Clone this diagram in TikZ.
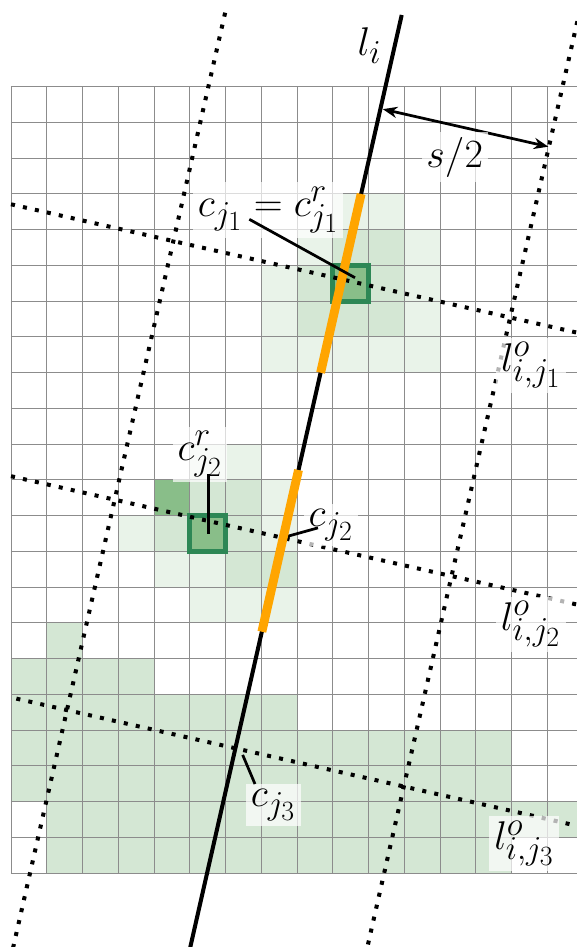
\documentclass[tikz,border=0pt]{standalone}
\usetikzlibrary{arrows.meta}
\definecolor{gmed}{RGB}{212,231,212}
\definecolor{glight}{RGB}{233,243,233}
\definecolor{gdark}{RGB}{137,190,137}
\definecolor{gborder}{RGB}{45,135,85}
\definecolor{orng}{RGB}{255,165,0}
\begin{document}
\begin{tikzpicture}[x=0.78cm,y=-0.78cm,
  gridline/.style={draw=black!45,line width=0.6pt},
  dotline/.style={line width=2.5pt,dash pattern=on 2.5pt off 5.1pt},
  mainline/.style={line width=2.5pt},
  segline/.style={draw=orng,line width=5.5pt},
  leader/.style={line width=1.7pt},
  repcell/.style={draw=gborder,line width=3pt,fill=gdark},
  lbl/.style={font=\Huge,fill=white,fill opacity=0.7,text opacity=1,inner xsep=3pt,inner ysep=3pt},
  dimarrow/.style={line width=1.7pt,{Stealth[length=9pt,width=7pt]}-{Stealth[length=9pt,width=7pt]}}
]
\useasboundingbox (-0.3077,-2.425) rectangle (15.832,24.064);
\clip (-0.3077,-2.425) rectangle (15.832,24.064);

% patch 1
\foreach \c/\r in {9/3,10/3,8/4,11/4,7/5,11/5,7/6,11/6,7/7,8/7,9/7,10/7,11/7}
  \fill[glight] (\c,\r) rectangle ++(1,1);
\foreach \c/\r in {9/4,10/4,8/5,10/5,8/6,9/6,10/6}
  \fill[gmed] (\c,\r) rectangle ++(1,1);
% patch 2
\foreach \c/\r in {5/10,6/10,7/11,3/12,7/12,4/13,5/13,5/14,6/14,7/14}
  \fill[glight] (\c,\r) rectangle ++(1,1);
\foreach \c/\r in {5/11,6/11,4/12,6/12,6/13,7/13}
  \fill[gmed] (\c,\r) rectangle ++(1,1);
\fill[gdark] (4,11) rectangle ++(1,1);
% bottom patch
\foreach \r/\a/\b in {15/1/1,16/0/3,17/0/7,18/0/13,19/0/13,20/1/15,21/1/13}
  \fill[gmed] (\a,\r) rectangle (\b+1,\r+1);

% grid
\foreach \i in {0,...,16} \draw[gridline] (\i,0) -- (\i,22);
\foreach \j in {0,...,22} \draw[gridline] (0,\j) -- (16,\j);

% representative cells
\draw[repcell] (9,5) rectangle (10,6);
\draw[repcell] (5,12) rectangle (6,13);

% coordinates
\coordinate (lt) at (10.929,-2.006);
\coordinate (lb) at (4.917,24.5);
\coordinate (p1a) at (0,3.289);
\coordinate (p1b) at (16.5,7.031);
\coordinate (p2a) at (0,10.895);
\coordinate (p2b) at (16.5,14.637);
\coordinate (p3a) at (0.15,17.116);
\coordinate (p3b) at (16.5,20.825);
\coordinate (qla) at (5.990,-2.07);
\coordinate (qlb) at (-0.036,24.5);
\coordinate (qra) at (15.994,-2.5);
\coordinate (qrb) at (9.870,24.5);
\coordinate (s1a) at (9.794,3);
\coordinate (s1b) at (8.660,8);
\coordinate (s2a) at (8.042,10.722);
\coordinate (s2b) at (7.017,15.245);
\coordinate (a1) at (10.40,0.628);
\coordinate (a2) at (15.03,1.678);

% dotted lines
\draw[dotline] (p1a) -- (p1b);
\draw[dotline] (p2a) -- (p2b);
\draw[dotline] (p3a) -- (p3b);
\draw[dotline] (qla) -- (qlb);
\draw[dotline] (qra) -- (qrb);

% main line and segments
\draw[mainline] (lt) -- (lb);
\draw[segline] (s1a) -- (s1b);

% distance arrow
\draw[dimarrow] (a1) -- (a2);

% labels
\node[lbl] (Li) at (10.028,-1.138) {$l_i$};
\node[lbl] (S) at (12.411,1.975) {$s/2$};
\node[lbl] (C1) at (7.197,3.449) {$c_{j_1} = c^r_{j_1}$};
\node[lbl] (CR2) at (5.287,10.280) {$c^r_{j_2}$};
\node[lbl] (C2) at (8.951,12.26) {$c_{j_2}$};
\node[lbl] (C3) at (7.337,20.09) {$c_{j_3}$};
\node[lbl] (L1) at (14.545,7.785) {$l^o_{i,j_1}$};
\node[lbl] (L2) at (14.54,15.035) {$l^o_{i,j_2}$};
\node[lbl] (L3) at (14.355,21.164) {$l^o_{i,j_3}$};

% leaders
\coordinate (k1a) at (6.666,3.709);
\coordinate (k1b) at (9.622,5.343);
\coordinate (k2a) at (5.53,10.83);
\coordinate (k2b) at (5.53,12.5);
\coordinate (k3a) at (7.65,12.60);
\coordinate (k3b) at (8.587,12.34);
\coordinate (k4a) at (6.48,18.69);
\coordinate (k4b) at (6.825,19.505);
\draw[leader] (k1a) -- (k1b);
\draw[leader] (k2a) -- (k2b);
\draw[leader] (k3a) -- (k3b);
\draw[leader] (k4a) -- (k4b);
\draw[segline] (s2a) -- (s2b);
\end{tikzpicture}
\end{document}
